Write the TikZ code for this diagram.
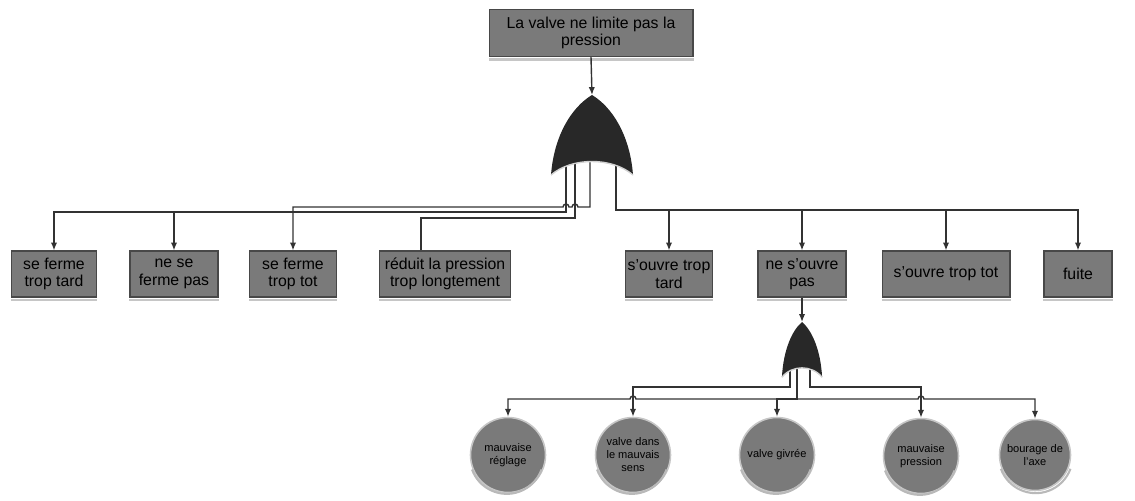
\documentclass[tikz,border=0pt]{standalone}
\usepackage{fontspec}
\setmainfont{Liberation Sans}
\usetikzlibrary{arrows.meta, calc}
\definecolor{boxgray}{RGB}{122,122,122}
\definecolor{edgegray}{RGB}{72,72,72}
\definecolor{gatefill}{RGB}{40,40,40}
\definecolor{inkgray}{RGB}{25,25,25}
\definecolor{wiregray}{RGB}{50,50,50}

\begin{document}
\begin{tikzpicture}[
			x=0.02cm, y=-0.02cm,
			>={Latex[length=4.5pt, width=3.6pt]},
			evbox/.style={rectangle, draw=edgegray, fill=boxgray, line width=0.6pt, minimum height=0.92cm, inner sep=1pt, align=center, text=black, font=\fontsize{9}{10}\selectfont},
			basic/.style={circle, draw=gray!45, fill=boxgray, line width=0.9pt, minimum size=1.5cm, inner sep=0pt, align=center, text=black, font=\fontsize{6.3}{7.4}\selectfont},
			wire/.style={draw=wiregray, line width=0.8pt},
			orgate/.pic={
				\fill[gatefill] (0,0) .. controls (-20,12) and (-38,40) .. (-41,80)
					.. controls (-20,62) and (20,62) .. (41,80)
					.. controls (38,40) and (20,12) .. (0,0) -- cycle;
				\draw[gray!35, line width=0.8pt] (-41,80) .. controls (-20,62) and (20,62) .. (41,80);
				\coordinate (-top) at (0,0);
			}
			]
			\useasboundingbox (0,0) rectangle (1135,500);
			
			% Top event
			\node[evbox, minimum width=4.08cm, minimum height=0.94cm] (top) at (591,33) {La valve ne limite pas la\\pression};
			
			% Intermediate events
			\node[evbox, minimum width=1.7cm] (b1) at (54,274) {se ferme\\trop tard};
			\node[evbox, minimum width=1.76cm] (b2) at (174,274) {ne se\\ferme pas};
			\node[evbox, minimum width=1.74cm] (b3) at (293,274) {se ferme\\trop tot};
			\node[evbox, minimum width=2.62cm] (b4) at (445,274) {réduit la pression\\trop longtement};
			\node[evbox, minimum width=1.72cm] (b5) at (669,274) {s'ouvre trop\\tard};
			\node[evbox, minimum width=1.76cm] (b6) at (802,274) {ne s'ouvre\\pas};
			\node[evbox, minimum width=2.56cm] (b7) at (946,274) {s'ouvre trop tot};
			\node[evbox, minimum width=1.36cm] (b8) at (1078,274) {fuite};
			
			% Basic events
			\node[basic] (c1) at (508,455) {mauvaise\\réglage};
			\node[basic] (c2) at (633,455) {valve dans\\le mauvais\\sens};
			\node[basic] (c3) at (777,455) {valve givrée};
			\node[basic] (c4) at (921,456) {mauvaise\\pression};
			\node[basic, minimum size=1.42cm] (c5) at (1035,455) {bourage de\\l'axe};
			
			% Gate legs and wire levels
			\coordinate (g1a) at (566,160);
			\coordinate (g1b) at (575,160);
			\coordinate (g1c) at (590,160);
			\coordinate (g1d) at (616,160);
			\coordinate (lvA) at (0,212);
			\coordinate (lvB) at (0,218);
			\coordinate (lvC) at (0,207);
			\coordinate (lvD) at (0,210);
			\coordinate (b4in) at (421,0);
			\coordinate (g2a) at (790,360);
			\coordinate (g2b) at (797,360);
			\coordinate (g2c) at (810,360);
			\coordinate (lvE) at (0,387);
			\coordinate (lvF) at (0,399);
			
			% Shadows under boxes and circles
			\foreach \b in {top,b1,b2,b3,b4,b5,b6,b7,b8}
				\draw[gray!45, line width=1.6pt] ([yshift=-1.4pt]\b.south west) -- ([yshift=-1.4pt]\b.south east);
			\foreach \c in {c1,c2,c3,c4,c5}
				\draw[gray!55, line width=1.2pt] ([yshift=-0.8pt]\c.200) arc[start angle=200, end angle=340, radius=0.74cm];
			
			% Upper gate to intermediate events
			\draw[wire, ->] (g1a) -- (g1a |- lvA) -| (b1.north);
			\draw[wire, ->] (g1a) -- (g1a |- lvA) -| (b2.north);
			\draw[wire, ->] (g1c) -- (g1c |- lvC) -- ($(g1b |- lvC)+(1.7pt,0)$) arc[start angle=0, end angle=180, radius=1.7pt]
				-- ($(g1a |- lvC)+(1.7pt,0)$) arc[start angle=0, end angle=180, radius=1.7pt] -| (b3.north);
			\draw[wire] (g1b) -- (g1b |- lvB) -| (b4in |- b4.north);
			\draw[wire, ->] (g1d) -- (g1d |- lvD) -| (b5.north);
			\draw[wire, ->] (g1d) -- (g1d |- lvD) -| (b6.north);
			\draw[wire, ->] (g1d) -- (g1d |- lvD) -| (b7.north);
			\draw[wire, ->] (g1d) -- (g1d |- lvD) -| (b8.north);
			
			% Lower gate to basic events
			\draw[wire, ->] (g2b) -- (g2b |- lvF) -- ($(c2.north |- lvF)+(1.7pt,0)$) arc[start angle=0, end angle=180, radius=1.7pt] -| (c1.north);
			\draw[wire, ->] (g2a) -- (g2a |- lvE) -| (c2.north);
			\draw[wire, ->] (g2b) -- (g2b |- lvF) -| (c3.north);
			\draw[wire, ->] (g2c) -- (g2c |- lvE) -| (c4.north);
			\draw[wire, ->] (g2b) -- (g2b |- lvF) -- ($(c4.north |- lvF)+(-1.7pt,0)$) arc[start angle=180, end angle=0, radius=1.7pt] -| (c5.north);
			
			% Gates
			\draw[wire, ->] (top.south) -- (592,95);
			\pic (g1) at (592,95) {orgate};
			\draw[wire, ->] (b6.south) -- (802,322);
			\pic[xscale=0.49, yscale=0.69] (g2) at (802,322) {orgate};
			
		\end{tikzpicture}
\end{document}
